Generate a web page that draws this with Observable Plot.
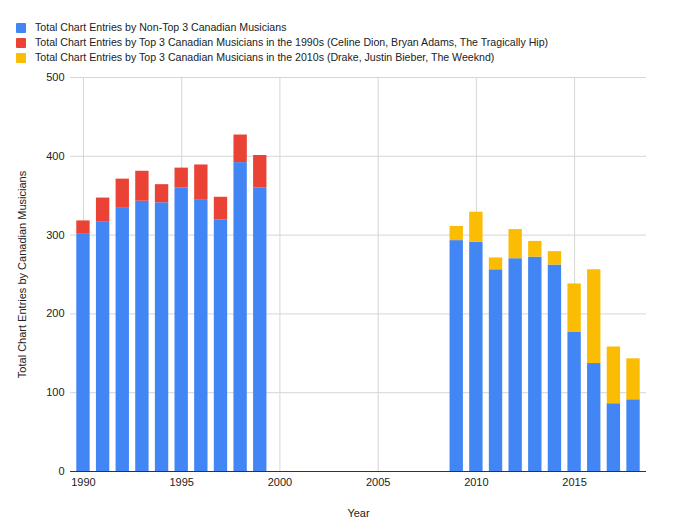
<!DOCTYPE html>
<html>
<head>
<meta charset="utf-8">
<script src="https://cdn.jsdelivr.net/npm/d3@7"></script>
<script src="https://cdn.jsdelivr.net/npm/@observablehq/plot@0.6"></script>
<style>
  body { margin: 0; background: #fff; font-family: "Liberation Sans", Arial, sans-serif; }
  #legend { height: 66px; box-sizing: border-box; padding-top: 20px; padding-left: 16px; font-size: 10.6px; color: #222; }
  .row { height: 15px; line-height: 15px; display: flex; align-items: center; }
  .sw { width: 10px; height: 10px; border-radius: 1px; margin-right: 9px; flex: none; }
</style>
</head>
<body>
<div id="legend"></div>
<div id="chart"></div>
<script>
const seriesNames = [
  "Total Chart Entries by Non-Top 3 Canadian Musicians",
  "Total Chart Entries by Top 3 Canadian Musicians in the 1990s (Celine Dion, Bryan Adams, The Tragically Hip)",
  "Total Chart Entries by Top 3 Canadian Musicians in the 2010s (Drake, Justin Bieber, The Weeknd)"
];
const seriesColors = ["#4285F4", "#EA4335", "#FBBC04"];

const years1990s = [1990, 1991, 1992, 1993, 1994, 1995, 1996, 1997, 1998, 1999];
const nonTop1990s = [301, 317, 334, 343, 341, 360, 345, 319, 392, 360];
const top3_1990s = [17, 30, 37, 38, 23, 25, 44, 29, 35, 41];

const years2010s = [2009, 2010, 2011, 2012, 2013, 2014, 2015, 2016, 2017, 2018];
const nonTop2010s = [293, 291, 256, 270, 272, 262, 177, 137, 86, 91];
const top3_2010s = [18, 38, 15, 37, 20, 17, 61, 119, 72, 52];

const yTicks = [0, 100, 200, 300, 400, 500];
const xTicks = [1990, 1995, 2000, 2005, 2010, 2015];

// legend
const legend = document.getElementById("legend");
seriesNames.forEach((name, i) => {
  const row = document.createElement("div");
  row.className = "row";
  const sw = document.createElement("span");
  sw.className = "sw";
  sw.style.background = seriesColors[i];
  const t = document.createElement("span");
  t.textContent = name;
  row.appendChild(sw); row.appendChild(t);
  legend.appendChild(row);
});

// build stacked rows
const rows = [];
years1990s.forEach((y, i) => {
  rows.push({year: y, series: seriesNames[0], y1: 0, y2: nonTop1990s[i]});
  rows.push({year: y, series: seriesNames[1], y1: nonTop1990s[i], y2: nonTop1990s[i] + top3_1990s[i]});
});
years2010s.forEach((y, i) => {
  rows.push({year: y, series: seriesNames[0], y1: 0, y2: nonTop2010s[i]});
  rows.push({year: y, series: seriesNames[2], y1: nonTop2010s[i], y2: nonTop2010s[i] + top3_2010s[i]});
});

const half = 0.34;
const chart = Plot.plot({
  width: 680,
  height: 465,
  marginTop: 11,
  marginBottom: 60,
  marginLeft: 70,
  marginRight: 34,
  style: {fontFamily: "'Liberation Sans', Arial, sans-serif", fontSize: "11px", color: "#222"},
  x: {domain: [1989.34, 2018.66]},
  y: {domain: [0, 500]},
  color: {domain: seriesNames, range: seriesColors},
  marks: [
    Plot.gridY(yTicks.slice(1), {stroke: "#d6d6d6", strokeOpacity: 1}),
    Plot.gridX(xTicks, {stroke: "#d6d6d6", strokeOpacity: 1}),
    Plot.rect(rows, {x1: d => d.year - half, x2: d => d.year + half, y1: "y1", y2: "y2", fill: "series"}),
    Plot.ruleY([0], {stroke: "#333", strokeWidth: 1}),
    Plot.axisY({ticks: yTicks, tickSize: 0, tickPadding: 6, tickFormat: d => String(d),
      label: "Total Chart Entries by Canadian Musicians", labelAnchor: "center", labelArrow: "none", labelOffset: 52}),
    Plot.axisX({ticks: xTicks, tickSize: 0, tickPadding: 7, tickFormat: d => String(d),
      label: "Year", labelAnchor: "center", labelArrow: "none", labelOffset: 45})
  ]
});
document.getElementById("chart").appendChild(chart);
</script>
</body>
</html>
